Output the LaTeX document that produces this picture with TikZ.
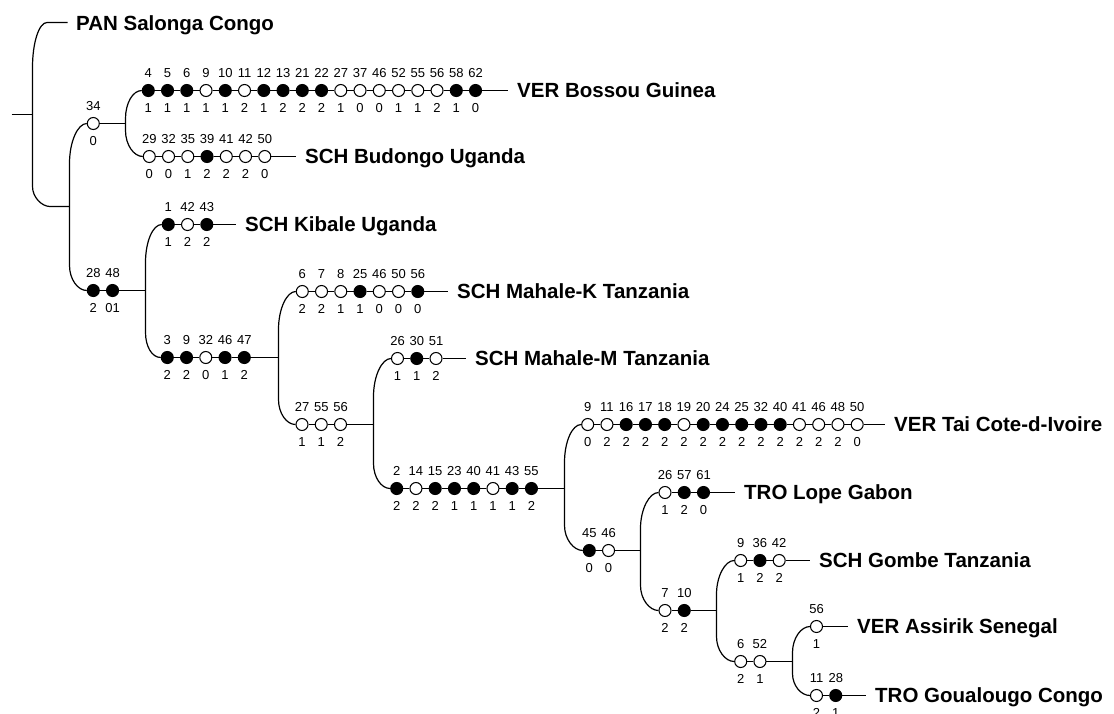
\documentclass[tikz,border=0pt]{standalone}
\usepackage{fontspec}
\setmainfont{Liberation Sans}
\tikzset{
  ln/.style={line width=1.2pt},
  oc/.style={circle, draw, line width=1.05pt, fill=white, minimum size=12pt, inner sep=0pt},
  fc/.style={circle, draw, line width=1.05pt, fill=black, minimum size=12pt, inner sep=0pt},
  num/.style={font=\fontsize{13}{13}\selectfont, anchor=base, inner sep=0pt},
  tax/.style={font=\fontsize{20.5}{24}\selectfont\bfseries, anchor=base west, inner sep=0pt},
}
% row of character circles: #1 prefix, #2 x0, #3 y, #4 list top/style/bottom
\newcommand\crow[4]{%
  \foreach \tp/\fl/\bt [count=\i from 0] in {#4}{%
    \node[\fl] (#1\i) at ({#2+\i*19.25},{#3}) {};
    \node[num] (#1t\i) at ({#2+\i*19.25},{#3-13}) {\tp};
    \node[num] (#1b\i) at ({#2+\i*19.25},{#3+22}) {\bt};
  }%
  \foreach \tp/\fl/\bt [count=\i from 0] in {#4}{%
    \ifnum\i>0
      \pgfmathtruncatemacro\jj{\i-1}%
      \draw[ln] (#1\jj.east) -- (#1\i.west);
    \fi
  }%
}
% split: #1 xv, #2 top node, #3 ytop, #4 ry top, #5 bottom node, #6 ybot, #7 ry bottom
\newcommand\brsplit[7]{%
  \draw[ln] (#2.west) .. controls +(-9,0) and +(0,{-0.55*#4}) .. ({#1},{#3+#4})
    -- ({#1},{#6-#7}) .. controls +(0,{0.55*#7}) and +(-9,0) .. (#5.west);
}
% leaf: #1 last node, #2 label name, #3 x, #4 y, #5 text
\newcommand\leaf[5]{%
  \node[tax] (#2) at ({#3},{#4+7.3}) {#5};
  \draw[ln, shorten >=9pt] (#1.east) -- (#1.east -| #2.west);
}
\begin{document}
\begin{tikzpicture}[x=1pt,y=-1pt]
\useasboundingbox (0,0) rectangle (1114,713);

% rows
\crow{bos}{148.3}{90.5}{4/fc/1, 5/fc/1, 6/fc/1, 9/oc/1, 10/fc/1, 11/oc/2, 12/fc/1, 13/fc/2, 21/fc/2, 22/fc/2, 27/oc/1, 37/oc/0, 46/oc/0, 52/oc/1, 55/oc/1, 56/oc/2, 58/fc/1, 62/fc/0}
\crow{bud}{149.3}{156.5}{29/oc/0, 32/oc/0, 35/oc/1, 39/fc/2, 41/oc/2, 42/oc/2, 50/oc/0}
\crow{nft}{93.3}{123.5}{34/oc/0}
\crow{nte}{93.3}{290.5}{28/fc/2, 48/fc/01}
\crow{kib}{168.3}{224.5}{1/fc/1, 42/oc/2, 43/fc/2}
\crow{rth}{167.3}{357.5}{3/fc/2, 9/fc/2, 32/oc/0, 46/fc/1, 47/fc/2}
\crow{mhk}{302.3}{291.5}{6/oc/2, 7/oc/2, 8/oc/1, 25/fc/1, 46/oc/0, 50/oc/0, 56/fc/0}
\crow{rtt}{302}{424.5}{27/oc/1, 55/oc/1, 56/oc/2}
\crow{mhm}{397.5}{358.5}{26/oc/1, 30/fc/1, 51/oc/2}
\crow{rtw}{396.7}{488.5}{2/fc/2, 14/oc/2, 15/fc/2, 23/fc/1, 40/fc/1, 41/oc/1, 43/fc/1, 55/fc/2}
\crow{tai}{587.7}{424.5}{9/oc/0, 11/oc/2, 16/fc/2, 17/fc/2, 18/fc/2, 19/oc/2, 20/fc/2, 24/fc/2, 25/fc/2, 32/fc/2, 40/fc/2, 41/oc/2, 46/oc/2, 48/oc/2, 50/oc/0}
\crow{rff}{589.3}{550.5}{45/fc/0, 46/oc/0}
\crow{lop}{665}{492.5}{26/oc/1, 57/fc/2, 61/fc/0}
\crow{rsv}{665}{610.5}{7/oc/2, 10/fc/2}
\crow{gom}{740.7}{560.5}{9/oc/1, 36/fc/2, 42/oc/2}
\crow{rsx}{740.7}{661.5}{6/oc/2, 52/oc/1}
\crow{ass}{816.5}{626.5}{56/oc/1}
\crow{gou}{816.5}{695.5}{11/oc/2, 28/fc/1}

% leaves
\leaf{bos17}{lbos}{517}{90.5}{VER Bossou Guinea}
\leaf{bud6}{lbud}{305}{156.5}{SCH Budongo Uganda}
\leaf{kib2}{lkib}{245}{224.5}{SCH Kibale Uganda}
\leaf{mhk6}{lmhk}{457}{291.5}{SCH Mahale-K Tanzania}
\leaf{mhm2}{lmhm}{475}{358.5}{SCH Mahale-M Tanzania}
\leaf{tai14}{ltai}{894}{424.5}{VER Tai Cote-d-Ivoire}
\leaf{lop2}{llop}{744}{492.5}{TRO Lope Gabon}
\leaf{gom2}{lgom}{819}{560.5}{SCH Gombe Tanzania}
\leaf{ass0}{lass}{857}{626.5}{VER Assirik Senegal}
\leaf{gou1}{lgou}{875}{695.5}{TRO Goualougo Congo}

% splits
\brsplit{125.5}{bos0}{90.5}{28}{bud0}{156.5}{26}
\brsplit{69.5}{nft0}{123.5}{40}{nte0}{290.5}{25}
\brsplit{145.5}{kib0}{224.5}{38}{rth0}{357.5}{25}
\brsplit{278.5}{mhk0}{291.5}{38}{rtt0}{424.5}{25}
\brsplit{373.5}{mhm0}{358.5}{38}{rtw0}{488.5}{25}
\brsplit{564.5}{tai0}{424.5}{38}{rff0}{550.5}{25}
\brsplit{640.5}{lop0}{492.5}{36}{rsv0}{610.5}{25}
\brsplit{716.5}{gom0}{560.5}{34}{rsx0}{661.5}{25}
\brsplit{792.5}{ass0}{626.5}{26}{gou0}{695.5}{22}

% stems
\draw[ln] (nft0.east) -- (nft0.east -| 125.5,0);
\draw[ln] (nte1.east) -- (nte1.east -| 145.5,0);
\draw[ln] (rth4.east) -- (rth4.east -| 278.5,0);
\draw[ln] (rtt2.east) -- (rtt2.east -| 373.5,0);
\draw[ln] (rtw7.east) -- (rtw7.east -| 564.5,0);
\draw[ln] (rff1.east) -- (rff1.east -| 640.5,0);
\draw[ln] (rsv1.east) -- (rsv1.east -| 716.5,0);
\draw[ln] (rsx1.east) -- (rsx1.east -| 792.5,0);

% root and PAN
\node[tax] (lpan) at (76,30) {PAN Salonga Congo};
\coordinate (panend) at (67.5,22.5);
\coordinate (rootin) at (11.7,114.5);
\coordinate (rootv) at (32.5,114.5);
\coordinate (cladein) at (69.5,206.5);
\draw[ln] (panend) -- (47,22.5) .. controls +(-8,0) and +(0,-25) .. (32.5,67.5)
  -- (32.5,186.5) .. controls +(0,11) and +(-8,0) .. (50,206.5) -- (cladein);
\draw[ln] (rootin) -- (rootv);
\end{tikzpicture}
\end{document}
